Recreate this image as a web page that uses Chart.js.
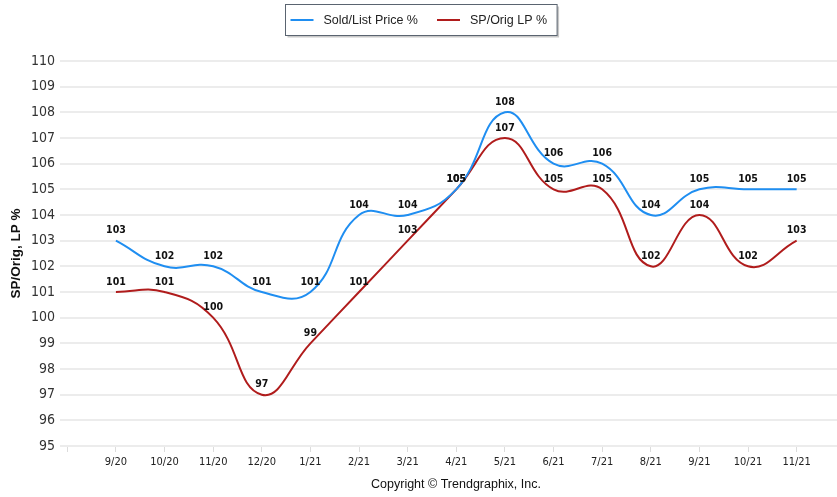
<!DOCTYPE html>
<html>
<head>
<meta charset="utf-8">
<title>Sold/List Price % and SP/Orig LP %</title>
<script src="https://cdn.jsdelivr.net/npm/chart.js@4/dist/chart.umd.min.js"></script>
<style>
  html, body { margin: 0; padding: 0; background: #ffffff; }
  #wrap { width: 837px; height: 497px; position: relative; }
</style>
</head>
<body>
<div id="wrap"><canvas id="chart" width="837" height="497"></canvas></div>
<script>
// Monthly figures, September 2020 through November 2021
const months = ['9/20', '10/20', '11/20', '12/20', '1/21', '2/21', '3/21', '4/21',
                '5/21', '6/21', '7/21', '8/21', '9/21', '10/21', '11/21'];
const soldListPct = [103, 102, 102, 101, 101, 104, 104, 105, 108, 106, 106, 104, 105, 105, 105];
const spOrigLpPct = [101, 101, 100, 97, 99, 101, 103, 105, 107, 105, 105, 102, 104, 102, 103];
const yTickValues = [95, 96, 97, 98, 99, 100, 101, 102, 103, 104, 105, 106, 107, 108, 109, 110];

const narrow = "'Liberation Sans Narrow', 'DejaVu Sans Condensed', sans-serif";
const sans = "'Liberation Sans', Arial, sans-serif";
const BLUE = '#1f8ef1';
const RED = '#b01c1c';

// month index -> point on the linear x axis
const toPoints = arr => arr.map((v, i) => ({ x: i, y: v }));

// value labels above every point
const valueLabels = {
  id: 'valueLabels',
  afterDatasetsDraw(chart) {
    const ctx = chart.ctx;
    ctx.save();
    ctx.font = 'bold 10.5px ' + narrow;
    ctx.fillStyle = '#111';
    ctx.textAlign = 'center';
    ctx.textBaseline = 'middle';
    chart.data.datasets.forEach((ds, di) => {
      const meta = chart.getDatasetMeta(di);
      meta.data.forEach((pt, i) => {
        ctx.fillText(String(ds.data[i].y), pt.x, pt.y - 10);
      });
    });
    ctx.restore();
  }
};

// boxed legend at the top and the copyright line at the bottom
const frame = {
  id: 'frame',
  afterDraw(chart) {
    const ctx = chart.ctx;
    ctx.save();
    ctx.font = '12.5px ' + sans;
    const sw = 23, gapText = 10, gapItem = 19, padL = 5, padR = 10;
    const items = chart.data.datasets.map(ds => ({ label: ds.label, color: ds.borderColor, w: ctx.measureText(ds.label).width }));
    let total = padL + padR;
    items.forEach((it, i) => { total += sw + gapText + it.w + (i < items.length - 1 ? gapItem : 0); });
    const bx = Math.round(chart.width / 2 + 2 - total / 2) + 0.5;
    const by = 4.5, bh = 31;
    // shadow
    ctx.fillStyle = '#c8c8c8';
    ctx.fillRect(bx + 2, by + 2, total, bh);
    ctx.fillStyle = '#ffffff';
    ctx.fillRect(bx, by, total, bh);
    ctx.strokeStyle = '#5a6470';
    ctx.lineWidth = 1;
    ctx.strokeRect(bx, by, total, bh);
    let x = bx + padL;
    const cy = by + bh / 2;
    ctx.textBaseline = 'middle';
    ctx.textAlign = 'left';
    items.forEach(it => {
      ctx.strokeStyle = it.color;
      ctx.lineWidth = 2;
      ctx.beginPath();
      ctx.moveTo(x, cy);
      ctx.lineTo(x + sw, cy);
      ctx.stroke();
      ctx.fillStyle = '#222';
      ctx.fillText(it.label, x + sw + gapText, cy + 0.5);
      x += sw + gapText + it.w + gapItem;
    });
    // copyright
    ctx.textAlign = 'center';
    ctx.fillStyle = '#111';
    ctx.font = '12.5px ' + sans;
    ctx.fillText('Copyright \u00A9 Trendgraphix, Inc.', 456, 485);
    ctx.restore();
  }
};

new Chart(document.getElementById('chart'), {
  type: 'line',
  data: {
    datasets: [
      {
        label: 'Sold/List Price %',
        data: toPoints(soldListPct),
        borderColor: BLUE,
        backgroundColor: BLUE,
        borderWidth: 2,
        tension: 0.45,
        pointRadius: 0,
        fill: false
      },
      {
        label: 'SP/Orig LP %',
        data: toPoints(spOrigLpPct),
        borderColor: RED,
        backgroundColor: RED,
        borderWidth: 2,
        tension: 0.45,
        pointRadius: 0,
        fill: false
      }
    ]
  },
  options: {
    responsive: false,
    animation: false,
    layout: { padding: { top: 61, right: 0, bottom: 0, left: 0 } },
    plugins: {
      legend: { display: false },
      tooltip: { enabled: false }
    },
    scales: {
      x: {
        type: 'linear',
        min: -1.15,
        max: 14.83,
        afterBuildTicks(scale) {
          scale.ticks = [-1].concat(months.map((m, i) => i)).map(v => ({ value: v }));
        },
        afterFit(scale) { scale.height = 51; },
        border: { display: false },
        grid: { drawOnChartArea: false, drawTicks: true, tickLength: 6, color: '#dcdcdc' },
        ticks: {
          autoSkip: false,
          maxRotation: 0,
          padding: 4,
          color: '#222',
          font: { family: narrow, size: 11 },
          callback: v => (months[v] !== undefined ? months[v] : '')
        }
      },
      y: {
        min: 95,
        max: 110,
        afterBuildTicks(scale) {
          scale.ticks = yTickValues.map(v => ({ value: v }));
        },
        afterFit(scale) { scale.width = 60; },
        border: { display: false },
        grid: { drawTicks: false, color: '#ececec', lineWidth: 2 },
        ticks: {
          padding: 5,
          color: '#333',
          font: { family: narrow, size: 14 }
        },
        title: {
          display: true,
          text: 'SP/Orig, LP %',
          color: '#111',
          padding: { top: 8, bottom: 0 },
          font: { family: sans, size: 13.5, weight: 'bold' }
        }
      }
    }
  },
  plugins: [valueLabels, frame]
});
</script>
</body>
</html>
